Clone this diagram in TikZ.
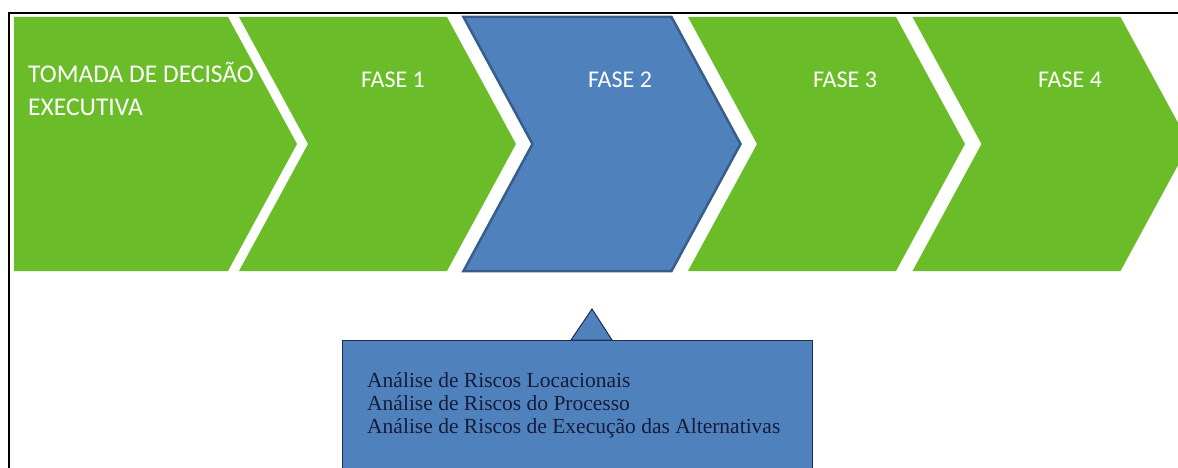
\documentclass[tikz,border=0pt]{standalone}
\usepackage{fontspec}
\setmainfont{Liberation Serif}
\newfontfamily\calibri{Carlito}
\usetikzlibrary{positioning}

\definecolor{fasegreen}{RGB}{106,189,40}
\definecolor{faseblue}{RGB}{79,129,189}
\definecolor{faseline}{RGB}{56,93,138}
\definecolor{boxline}{RGB}{28,45,85}
\definecolor{boxtext}{RGB}{22,28,58}

\begin{document}
\begin{tikzpicture}[x=1pt,y=-1pt,
	fase/.style={font=\calibri\fontsize{24}{33}\selectfont,text=white,inner sep=0pt},
	chevron/.style={fill=fasegreen},
	current/.style={fill=faseblue,draw=faseline,line width=2.5pt,line join=miter},
	riskbox/.style={fill=faseblue,draw=boxline,line width=1pt},
	risks/.style={font=\fontsize{21.5}{23}\selectfont,text=boxtext,inner sep=0pt,align=left}]

\useasboundingbox (0,0) rectangle (1178,468);

% moldura
\draw[line width=2pt] (9,468) -- (9,13) -- (1178,13);

% setas
\fill[chevron] (14,17) -- (228,17) -- (297,144) -- (228,271) -- (14,271) -- cycle;
\foreach \x in {239,688,912.5}
	\fill[chevron] (\x,17) -- ({\x+208},17) -- ({\x+277},144) -- ({\x+208},271) -- (\x,271) -- ({\x+69},144) -- cycle;
\filldraw[current] (463.5,17) -- (671.5,17) -- (740.5,144) -- (671.5,271) -- (463.5,271) -- (532.5,144) -- cycle;

\node[fase,font=\calibri\fontsize{25.5}{33}\selectfont,anchor=base west,align=left] (tomada) at (28,116) {TOMADA DE DECISÃO\\EXECUTIVA};
\node[fase,anchor=base] (f1) at (393,88) {FASE 1};
\node[fase,anchor=base] (f2) at (620,88) {FASE 2};
\node[fase,anchor=base] (f3) at (845,88) {FASE 3};
\node[fase,anchor=base] (f4) at (1070,88) {FASE 4};

% caixa da fase 2
\filldraw[riskbox] (342,340) rectangle (812,480);
\filldraw[riskbox] (571,340) -- (592,309) -- (612,340) -- cycle;
\node[risks,anchor=base west] (analise) at (367,433) {Análise de Riscos Locacionais\\Análise de Riscos do Processo\\Análise de Riscos de Execução das Alternativas};

\end{tikzpicture}
\end{document}
